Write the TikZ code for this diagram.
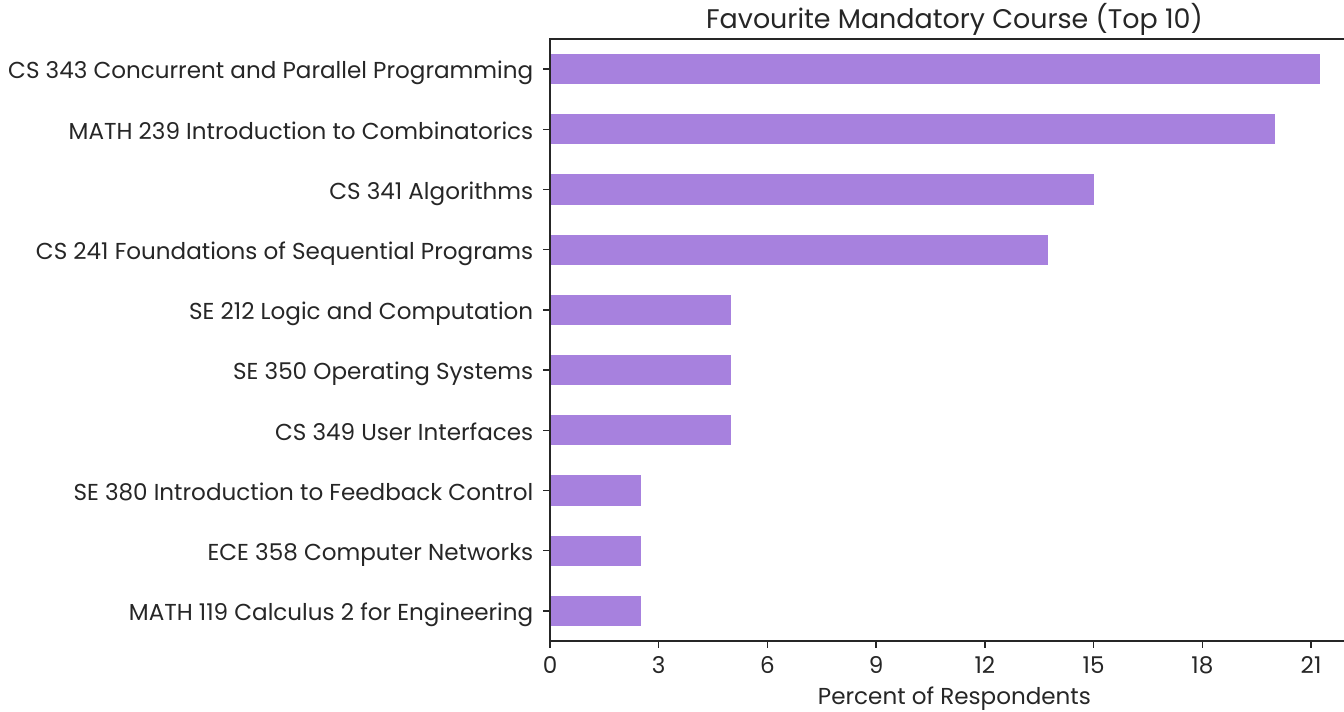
\documentclass[tikz,border=0pt]{standalone}
\usepackage{fontspec}
\setmainfont{Poppins}
\definecolor{barpurple}{RGB}{167,129,222}
\definecolor{axisgray}{RGB}{38,38,38}
\tikzset{
  ylab/.style={anchor=base east,inner sep=0pt,xshift=-6.75pt,yshift=-7.3pt},
  xlab/.style={anchor=base,inner sep=0pt,yshift=-19.5pt},
  spine/.style={axisgray,line width=1.1pt}
}
\begin{document}
\begin{tikzpicture}[x=27.18pt,y=45.15pt,font=\fontsize{17.3}{20}\selectfont,text=axisgray]
\useasboundingbox (-15.177,-1.179) rectangle (21.909,10.648);
% bars
\fill[barpurple](0,9.25) rectangle(21.25,9.75);
\fill[barpurple](0,8.25) rectangle(20,8.75);
\fill[barpurple](0,7.25) rectangle(15,7.75);
\fill[barpurple](0,6.25) rectangle(13.75,6.75);
\fill[barpurple](0,5.25) rectangle(5,5.75);
\fill[barpurple](0,4.25) rectangle(5,4.75);
\fill[barpurple](0,3.25) rectangle(5,3.75);
\fill[barpurple](0,2.25) rectangle(2.5,2.75);
\fill[barpurple](0,1.25) rectangle(2.5,1.75);
\fill[barpurple](0,0.25) rectangle(2.5,0.75);
% axes
\draw[spine](21.909,10)--(0,10)--(0,0)--(21.909,0);
\draw[spine](0,9.5)--(-0.193,9.5)node[ylab]{CS 343 Concurrent and Parallel Programming};
\draw[spine](0,8.5)--(-0.193,8.5)node[ylab]{MATH 239 Introduction to Combinatorics};
\draw[spine](0,7.5)--(-0.193,7.5)node[ylab]{CS 341 Algorithms};
\draw[spine](0,6.5)--(-0.193,6.5)node[ylab]{CS 241 Foundations of Sequential Programs};
\draw[spine](0,5.5)--(-0.193,5.5)node[ylab]{SE 212 Logic and Computation};
\draw[spine](0,4.5)--(-0.193,4.5)node[ylab]{SE 350 Operating Systems};
\draw[spine](0,3.5)--(-0.193,3.5)node[ylab]{CS 349 User Interfaces};
\draw[spine](0,2.5)--(-0.193,2.5)node[ylab]{SE 380 Introduction to Feedback Control};
\draw[spine](0,1.5)--(-0.193,1.5)node[ylab]{ECE 358 Computer Networks};
\draw[spine](0,0.5)--(-0.193,0.5)node[ylab]{MATH 119 Calculus 2 for Engineering};
\foreach \t in {0,3,...,21}
  \draw[spine](\t,0)--(\t,-0.116)node[xlab]{\t};
\node[anchor=base](xtitle) at (11.16,-1.05){Percent of Respondents};
\node[anchor=base,font=\fontsize{20.2}{24}\selectfont](title) at (11.16,10.18){Favourite Mandatory Course (Top 10)};
\end{tikzpicture}
\end{document}
